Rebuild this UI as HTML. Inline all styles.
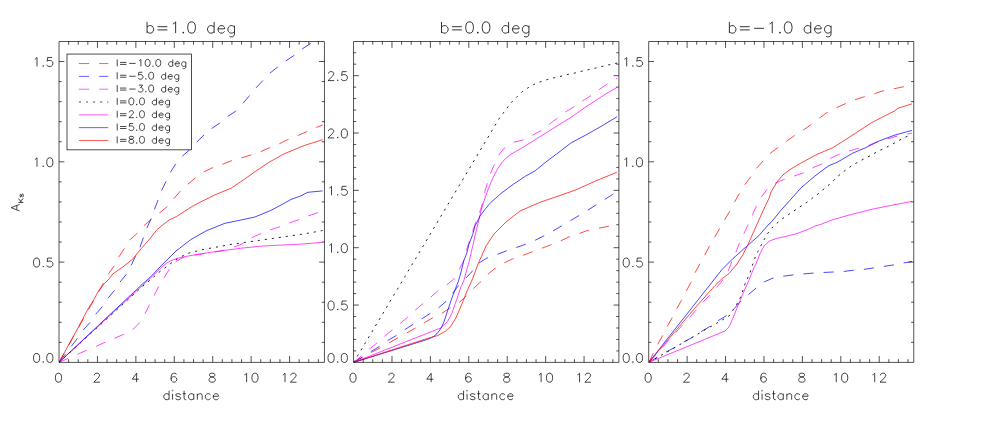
<!DOCTYPE html>
<html><head><meta charset="utf-8"><title>A_Ks vs distance</title>
<style>html,body{margin:0;padding:0;background:#fff;font-family:"Liberation Sans",sans-serif}svg{display:block}</style></head>
<body>
<svg width="981" height="427" viewBox="0 0 981 427">
<rect width="981" height="427" fill="#fff"/>
<clipPath id="c1"><rect x="59.03" y="41.50" width="265.42" height="320.90"/></clipPath>
<clipPath id="c2"><rect x="353.55" y="41.50" width="265.35" height="320.90"/></clipPath>
<clipPath id="c3"><rect x="648.70" y="41.50" width="265.05" height="320.90"/></clipPath>
<g clip-path="url(#c1)"><g transform="scale(1,1.000)" fill="none" stroke-width="0.72" stroke-linejoin="round">
<path d="M59.0 362.40L108.5 273.90L113.9 266.30L118.9 256.90L123.9 249.00L129.3 240.40L136.9 233.60L143.9 225.60L150.5 220.00L159.3 213.00L166.9 207.00L173.6 199.00L180.0 191.50L186.9 184.90L195.9 177.50L202.9 172.30L211.9 168.00L221.9 164.40L230.9 161.00L240.9 158.00L250.9 155.00L260.9 151.60L268.9 148.00L278.9 144.00L287.8 139.60L296.8 136.00L306.8 131.60L314.8 128.00L322.6 125.10" stroke="#ff0000" stroke-dasharray="10.2 10.0"/>
<path d="M59.0 362.40L71.0 346.90L77.0 338.90L83.0 330.30L90.0 322.40L95.0 315.00L102.0 307.00L107.3 299.00L114.5 290.40L119.6 282.50L125.9 274.90L130.9 265.90L134.9 257.50L139.9 247.60L142.9 239.00L146.9 228.00L150.9 219.00L154.3 210.00L157.9 200.40L161.4 190.90L166.0 181.50L170.0 172.90L175.4 164.40L182.0 156.40L189.9 149.60L195.9 143.00L202.9 136.00L210.9 129.00L219.9 123.00L227.9 116.30L235.3 111.50L242.5 103.90L248.9 96.30L255.9 88.00L262.5 81.00L269.3 73.60L276.9 67.60L284.8 61.60L293.2 56.00L301.2 49.60L309.8 44.00L318.0 38.50" stroke="#0000ff" stroke-dasharray="10.2 10.0"/>
<path d="M59.0 362.40L77.4 354.30L86.6 350.30L96.0 346.30L105.0 342.30L114.5 338.30L123.9 334.30L132.9 329.50L139.9 322.40L144.9 314.00L149.3 305.00L153.9 296.00L158.9 286.00L163.9 278.00L168.9 269.90L175.5 261.70L183.0 257.50L194.0 255.20L204.0 253.60L213.5 252.20L223.5 250.50L233.9 247.00L242.9 243.60L250.9 238.00L259.9 234.00L268.9 230.40L278.9 227.00L287.8 223.60L296.8 220.40L306.8 216.40L316.8 213.00L322.6 211.04" stroke="#ff00ff" stroke-dasharray="10.2 10.0"/>
<path d="M59.0 362.40L133.0 295.00L138.0 290.40L143.0 286.00L149.0 281.00L159.0 272.30L164.9 268.00L174.9 260.30L182.0 256.30L189.0 253.00L203.0 249.50L217.0 247.00L231.0 244.40L244.9 242.40L258.9 240.40L272.9 238.40L286.8 236.40L300.8 234.40L314.8 232.00L321.8 230.60L322.6 230.40" stroke="#000000" stroke-dasharray="2.1 4.97" stroke-width="0.88"/>
<path d="M59.0 362.40L144.0 284.00L150.0 278.50L161.0 267.70L167.0 262.80L172.0 260.20L177.0 258.50L183.0 257.10L190.9 255.50L210.9 252.30L224.9 250.30L242.9 248.00L262.9 246.00L282.9 245.00L302.8 244.00L321.8 242.40L322.6 242.33" stroke="#ff00ff"/>
<path d="M59.0 362.40L144.0 282.60L150.0 277.50L160.0 266.90L176.0 251.00L190.9 239.50L206.9 230.50L224.9 223.30L242.9 219.60L254.9 217.00L270.9 210.40L282.9 204.00L290.8 199.50L300.8 195.90L307.8 192.30L322.6 190.92" stroke="#0000ff"/>
<path d="M59.0 362.40L79.0 326.00L88.0 309.00L93.0 301.00L98.0 292.00L104.0 284.00L109.0 279.00L112.9 273.90L122.9 266.90L132.9 258.90L140.9 248.90L148.9 240.00L157.0 229.50L169.0 220.00L176.5 216.50L192.9 206.00L199.9 202.30L214.9 194.90L230.9 188.30L244.9 178.90L256.9 170.30L268.9 162.40L282.9 154.40L302.8 146.00L322.6 139.66" stroke="#ff0000"/>
</g></g>
<g clip-path="url(#c2)"><g transform="scale(1,1.000)" fill="none" stroke-width="0.72" stroke-linejoin="round">
<path d="M353.7 362.40L371.6 352.30L380.0 347.90L389.0 342.90L397.0 338.30L406.9 332.90L414.9 328.30L423.9 323.00L432.3 318.00L441.5 313.60L449.3 308.40L457.9 303.60L465.9 296.40L472.9 289.00L480.9 281.60L487.0 275.00L495.0 268.30L504.0 263.00L512.3 259.00L522.3 255.50L530.9 252.40L541.5 248.40L550.3 245.00L560.3 241.00L568.9 237.00L578.9 233.60L587.8 230.40L598.2 228.40L608.2 226.40L617.1 225.05" stroke="#ff0000" stroke-dasharray="10.2 10.0"/>
<path d="M353.7 362.40L371.0 351.50L379.6 346.30L388.0 340.30L396.4 335.50L404.3 330.00L412.9 324.40L421.5 319.00L429.9 313.60L438.3 308.00L445.9 301.60L452.9 293.00L457.9 286.40L465.0 279.00L471.6 272.00L479.0 263.00L487.0 258.00L497.0 254.40L506.0 251.00L516.0 247.60L525.3 244.40L534.9 240.40L543.5 236.00L552.9 231.00L561.5 226.00L569.9 221.00L578.9 215.60L587.5 210.40L595.9 205.00L604.5 199.60L612.8 194.30L617.1 191.54" stroke="#0000ff" stroke-dasharray="10.2 10.0"/>
<path d="M353.7 362.40L369.0 349.50L377.0 342.90L384.4 336.30L392.4 329.90L399.6 324.00L407.9 317.00L414.9 310.40L422.9 303.60L430.3 297.60L438.3 290.40L445.9 285.60L453.9 279.00L459.6 268.90L463.5 261.00L466.5 250.00L469.5 241.00L472.7 231.00L475.8 222.00L479.6 212.50L482.5 203.50L484.3 193.50L486.9 184.90L490.3 173.90L493.9 165.60L498.3 155.60L504.3 148.00L512.9 142.40L522.9 140.00L531.9 135.60L540.3 131.00L548.3 125.00L556.9 118.50L564.9 112.30L573.9 106.90L581.8 101.50L589.8 96.30L598.2 90.30L606.8 84.30L613.8 80.00L617.1 78.26" stroke="#ff00ff" stroke-dasharray="10.2 10.0"/>
<path d="M353.7 362.40L492.0 130.60L498.3 119.80L502.9 113.50L507.9 106.90L511.9 101.90L516.9 96.90L521.9 91.90L527.9 87.90L533.9 84.40L540.9 81.60L547.9 79.40L554.9 77.60L561.9 76.00L567.9 74.40L574.9 73.00L581.8 71.20L588.8 69.60L595.8 68.00L602.8 66.20L609.8 64.60L615.8 63.40L617.1 63.13" stroke="#000000" stroke-dasharray="2.1 4.97" stroke-width="0.88"/>
<path d="M353.7 362.40L440.9 327.90L447.5 321.50L451.5 314.00L455.5 303.00L460.5 288.00L464.0 280.00L466.8 269.60L469.0 262.00L472.7 246.20L474.5 238.00L477.6 225.00L481.5 209.00L485.0 198.00L487.9 189.90L490.8 182.50L493.9 175.90L497.5 169.00L501.9 162.70L505.5 158.50L509.9 155.00L515.5 151.50L521.9 148.00L537.9 138.00L553.9 128.00L562.9 122.30L569.9 118.00L585.8 106.90L605.8 93.90L617.1 87.28" stroke="#ff00ff"/>
<path d="M353.7 362.40L425.9 339.90L430.0 338.40L433.9 336.30L437.0 333.60L439.9 329.90L442.0 326.20L443.9 322.00L447.9 310.00L451.9 298.00L455.5 288.50L458.5 281.00L461.0 272.00L464.0 260.00L466.8 253.20L469.0 244.00L472.7 234.50L475.0 226.00L478.5 219.30L480.0 216.00L485.8 208.40L490.9 202.30L495.9 198.00L500.9 193.50L513.9 183.90L525.9 175.90L534.9 171.00L545.9 162.00L557.9 153.00L570.9 143.00L585.8 135.00L601.8 126.00L610.0 121.00L617.1 116.69" stroke="#0000ff"/>
<path d="M353.7 362.40L425.9 338.90L437.9 335.50L445.9 330.90L450.9 326.00L455.9 318.00L461.9 304.00L467.9 289.00L471.0 282.30L472.9 278.00L478.0 264.00L486.0 246.00L494.0 234.00L506.0 222.00L520.0 211.00L536.0 204.00L539.9 202.30L555.9 196.90L575.9 189.90L595.8 180.90L616.8 172.30L617.1 172.16" stroke="#ff0000"/>
</g></g>
<g clip-path="url(#c3)"><g transform="scale(1,1.000)" fill="none" stroke-width="0.72" stroke-linejoin="round">
<path d="M648.8 362.40L657.4 344.90L662.6 335.50L667.0 327.00L672.0 318.00L676.6 309.00L681.4 300.40L686.0 291.60L691.0 282.40L695.0 272.90L699.3 264.90L704.5 255.50L709.3 246.40L714.5 237.60L719.3 229.00L724.5 220.00L729.9 211.00L734.3 202.40L739.4 193.50L744.6 184.90L750.6 176.90L756.6 168.30L763.0 161.00L769.4 154.00L777.3 148.00L785.3 142.00L793.3 136.40L801.9 131.00L810.5 125.00L818.7 118.60L826.5 112.90L835.9 107.90L844.9 103.90L854.5 99.90L863.9 96.90L873.8 93.90L882.8 90.90L893.2 88.90L902.8 86.90L912.0 85.30" stroke="#ff0000" stroke-dasharray="10.2 10.0"/>
<path d="M648.8 362.40L666.0 352.00L674.6 347.60L683.0 342.40L692.0 337.60L701.0 331.60L709.0 327.00L717.4 321.00L726.0 316.00L733.0 310.00L740.0 302.00L748.0 295.00L755.0 289.00L764.0 282.00L773.0 278.00L782.8 276.30L792.0 275.00L803.0 274.00L813.0 273.10L823.0 272.50L833.0 272.00L843.3 271.50L853.0 270.30L863.3 269.50L873.0 268.00L883.3 266.50L893.0 265.00L903.3 263.00L912.0 261.50" stroke="#0000ff" stroke-dasharray="10.2 10.0"/>
<path d="M648.8 362.40L662.4 347.40L669.2 339.90L675.9 332.40L682.7 324.90L689.5 317.40L696.3 309.90L702.5 302.70L710.0 295.00L716.0 288.00L722.0 281.00L727.9 271.50L731.3 263.00L735.9 252.30L739.3 243.60L743.3 235.00L747.9 225.00L751.9 216.40L755.9 207.00L760.3 198.60L766.6 190.00L775.3 183.00L784.0 179.50L793.3 176.30L803.0 173.00L812.0 168.00L821.0 164.40L830.0 158.40L839.0 154.40L849.0 151.00L858.0 148.40L868.0 145.60L877.0 142.00L887.0 139.00L896.0 136.40L906.0 134.40L912.0 133.09" stroke="#ff00ff" stroke-dasharray="10.2 10.0"/>
<path d="M648.8 362.40L667.0 352.00L685.0 341.60L703.0 331.00L717.0 323.00L729.0 316.00L733.0 310.00L737.0 304.00L740.6 297.00L743.0 290.00L745.0 284.00L747.3 278.90L749.9 272.90L751.9 266.90L754.9 257.90L757.9 251.50L760.9 245.60L763.9 240.00L767.3 234.00L770.9 229.00L775.9 224.00L781.9 219.00L787.9 215.00L793.9 211.00L799.8 207.00L805.8 203.00L811.8 198.60L818.0 193.90L824.0 188.90L830.0 184.00L837.0 177.00L843.0 172.00L849.0 167.60L855.3 163.60L861.9 160.00L867.9 157.00L873.8 153.60L879.8 150.40L885.8 147.60L892.8 144.00L899.8 140.00L905.8 137.00L911.8 134.40L912.0 134.32" stroke="#000000" stroke-dasharray="2.1 4.97" stroke-width="0.88"/>
<path d="M648.8 362.40L725.0 331.00L729.0 327.00L733.0 318.00L739.0 303.00L745.0 289.00L748.0 282.30L753.9 267.90L756.0 263.90L759.9 253.90L764.0 246.00L768.9 241.60L771.0 240.40L776.9 238.40L783.0 237.00L788.9 235.60L797.0 233.60L808.8 229.00L815.0 226.00L820.8 224.40L833.0 219.60L853.0 214.00L873.0 209.00L893.0 205.00L912.0 201.40" stroke="#ff00ff"/>
<path d="M648.8 362.40L722.0 269.50L733.0 258.50L747.0 246.00L759.0 235.50L769.0 224.00L771.0 222.50L781.0 210.20L792.0 198.00L801.0 187.90L815.0 175.90L829.0 165.60L837.0 162.40L853.0 153.00L865.0 148.00L879.0 141.00L895.0 135.00L912.0 130.40" stroke="#0000ff"/>
<path d="M648.8 362.40L675.0 331.50L695.0 308.00L715.0 285.50L722.0 278.70L729.0 273.50L737.0 264.00L743.0 254.50L748.0 244.50L754.0 231.00L760.0 217.50L765.0 206.50L769.2 198.00L771.0 192.00L777.0 181.90L783.0 174.90L790.0 169.50L801.0 163.00L817.0 154.40L833.0 147.60L845.0 140.00L861.0 129.60L871.8 122.50L880.8 117.90L894.8 110.90L897.8 108.30L911.8 103.90L912.0 103.84" stroke="#ff0000"/>
</g></g>
<rect x="67.00" y="54.05" width="124.45" height="95.80" fill="#fff" stroke="#000" stroke-width="0.70"/>
<g fill="none" stroke-width="0.63"><path d="M78.9 63.55H108.3" stroke="#ff0000" stroke-dasharray="10.2 10.0"/><path d="M78.9 76.37H108.3" stroke="#0000ff" stroke-dasharray="10.2 10.0"/><path d="M78.9 89.19H108.3" stroke="#ff00ff" stroke-dasharray="10.2 10.0"/><path d="M78.9 102.01H108.3" stroke="#000" stroke-dasharray="2.1 4.97" stroke-width="0.7"/><path d="M78.9 114.83H108.3" stroke="#ff00ff"/><path d="M78.9 127.65H108.3" stroke="#0000ff"/><path d="M78.9 140.47H108.3" stroke="#ff0000"/></g>
<path d="M59.03 41.50H324.45V362.40H59.03ZM68.64 362.40L68.64 359.20M68.64 41.50L68.64 44.70M78.24 362.40L78.24 359.20M78.24 41.50L78.24 44.70M87.84 362.40L87.84 359.20M87.84 41.50L87.84 44.70M97.45 362.40L97.45 356.00M97.45 41.50L97.45 47.90M107.06 362.40L107.06 359.20M107.06 41.50L107.06 44.70M116.66 362.40L116.66 359.20M116.66 41.50L116.66 44.70M126.27 362.40L126.27 359.20M126.27 41.50L126.27 44.70M135.87 362.40L135.87 356.00M135.87 41.50L135.87 47.90M145.48 362.40L145.48 359.20M145.48 41.50L145.48 44.70M155.08 362.40L155.08 359.20M155.08 41.50L155.08 44.70M164.69 362.40L164.69 359.20M164.69 41.50L164.69 44.70M174.29 362.40L174.29 356.00M174.29 41.50L174.29 47.90M183.90 362.40L183.90 359.20M183.90 41.50L183.90 44.70M193.50 362.40L193.50 359.20M193.50 41.50L193.50 44.70M203.11 362.40L203.11 359.20M203.11 41.50L203.11 44.70M212.71 362.40L212.71 356.00M212.71 41.50L212.71 47.90M222.31 362.40L222.31 359.20M222.31 41.50L222.31 44.70M231.92 362.40L231.92 359.20M231.92 41.50L231.92 44.70M241.53 362.40L241.53 359.20M241.53 41.50L241.53 44.70M251.13 362.40L251.13 356.00M251.13 41.50L251.13 47.90M260.74 362.40L260.74 359.20M260.74 41.50L260.74 44.70M270.34 362.40L270.34 359.20M270.34 41.50L270.34 44.70M279.95 362.40L279.95 359.20M279.95 41.50L279.95 44.70M289.55 362.40L289.55 356.00M289.55 41.50L289.55 47.90M299.15 362.40L299.15 359.20M299.15 41.50L299.15 44.70M308.76 362.40L308.76 359.20M308.76 41.50L308.76 44.70M318.37 362.40L318.37 359.20M318.37 41.50L318.37 44.70M59.03 342.34L61.68 342.34M324.45 342.34L321.80 342.34M59.03 322.28L61.68 322.28M324.45 322.28L321.80 322.28M59.03 302.22L61.68 302.22M324.45 302.22L321.80 302.22M59.03 282.16L61.68 282.16M324.45 282.16L321.80 282.16M59.03 262.10L64.33 262.10M324.45 262.10L319.15 262.10M59.03 242.04L61.68 242.04M324.45 242.04L321.80 242.04M59.03 221.98L61.68 221.98M324.45 221.98L321.80 221.98M59.03 201.92L61.68 201.92M324.45 201.92L321.80 201.92M59.03 181.86L61.68 181.86M324.45 181.86L321.80 181.86M59.03 161.80L64.33 161.80M324.45 161.80L319.15 161.80M59.03 141.74L61.68 141.74M324.45 141.74L321.80 141.74M59.03 121.68L61.68 121.68M324.45 121.68L321.80 121.68M59.03 101.62L61.68 101.62M324.45 101.62L321.80 101.62M59.03 81.56L61.68 81.56M324.45 81.56L321.80 81.56M59.03 61.50L64.33 61.50M324.45 61.50L319.15 61.50M353.55 41.50H618.90V362.40H353.55ZM363.16 362.40L363.16 359.20M363.16 41.50L363.16 44.70M372.76 362.40L372.76 359.20M372.76 41.50L372.76 44.70M382.37 362.40L382.37 359.20M382.37 41.50L382.37 44.70M391.97 362.40L391.97 356.00M391.97 41.50L391.97 47.90M401.58 362.40L401.58 359.20M401.58 41.50L401.58 44.70M411.18 362.40L411.18 359.20M411.18 41.50L411.18 44.70M420.79 362.40L420.79 359.20M420.79 41.50L420.79 44.70M430.39 362.40L430.39 356.00M430.39 41.50L430.39 47.90M440.00 362.40L440.00 359.20M440.00 41.50L440.00 44.70M449.60 362.40L449.60 359.20M449.60 41.50L449.60 44.70M459.21 362.40L459.21 359.20M459.21 41.50L459.21 44.70M468.81 362.40L468.81 356.00M468.81 41.50L468.81 47.90M478.42 362.40L478.42 359.20M478.42 41.50L478.42 44.70M488.02 362.40L488.02 359.20M488.02 41.50L488.02 44.70M497.62 362.40L497.62 359.20M497.62 41.50L497.62 44.70M507.23 362.40L507.23 356.00M507.23 41.50L507.23 47.90M516.84 362.40L516.84 359.20M516.84 41.50L516.84 44.70M526.44 362.40L526.44 359.20M526.44 41.50L526.44 44.70M536.05 362.40L536.05 359.20M536.05 41.50L536.05 44.70M545.65 362.40L545.65 356.00M545.65 41.50L545.65 47.90M555.25 362.40L555.25 359.20M555.25 41.50L555.25 44.70M564.86 362.40L564.86 359.20M564.86 41.50L564.86 44.70M574.47 362.40L574.47 359.20M574.47 41.50L574.47 44.70M584.07 362.40L584.07 356.00M584.07 41.50L584.07 47.90M593.67 362.40L593.67 359.20M593.67 41.50L593.67 44.70M603.28 362.40L603.28 359.20M603.28 41.50L603.28 44.70M612.88 362.40L612.88 359.20M612.88 41.50L612.88 44.70M353.55 350.93L356.20 350.93M618.90 350.93L616.25 350.93M353.55 339.46L356.20 339.46M618.90 339.46L616.25 339.46M353.55 327.99L356.20 327.99M618.90 327.99L616.25 327.99M353.55 316.52L356.20 316.52M618.90 316.52L616.25 316.52M353.55 305.05L358.85 305.05M618.90 305.05L613.60 305.05M353.55 293.58L356.20 293.58M618.90 293.58L616.25 293.58M353.55 282.11L356.20 282.11M618.90 282.11L616.25 282.11M353.55 270.64L356.20 270.64M618.90 270.64L616.25 270.64M353.55 259.17L356.20 259.17M618.90 259.17L616.25 259.17M353.55 247.70L358.85 247.70M618.90 247.70L613.60 247.70M353.55 236.23L356.20 236.23M618.90 236.23L616.25 236.23M353.55 224.76L356.20 224.76M618.90 224.76L616.25 224.76M353.55 213.29L356.20 213.29M618.90 213.29L616.25 213.29M353.55 201.82L356.20 201.82M618.90 201.82L616.25 201.82M353.55 190.35L358.85 190.35M618.90 190.35L613.60 190.35M353.55 178.88L356.20 178.88M618.90 178.88L616.25 178.88M353.55 167.41L356.20 167.41M618.90 167.41L616.25 167.41M353.55 155.94L356.20 155.94M618.90 155.94L616.25 155.94M353.55 144.47L356.20 144.47M618.90 144.47L616.25 144.47M353.55 133.00L358.85 133.00M618.90 133.00L613.60 133.00M353.55 121.53L356.20 121.53M618.90 121.53L616.25 121.53M353.55 110.06L356.20 110.06M618.90 110.06L616.25 110.06M353.55 98.59L356.20 98.59M618.90 98.59L616.25 98.59M353.55 87.12L356.20 87.12M618.90 87.12L616.25 87.12M353.55 75.65L358.85 75.65M618.90 75.65L613.60 75.65M353.55 64.18L356.20 64.18M618.90 64.18L616.25 64.18M353.55 52.71L356.20 52.71M618.90 52.71L616.25 52.71M648.70 41.50H913.75V362.40H648.70ZM658.31 362.40L658.31 359.20M658.31 41.50L658.31 44.70M667.91 362.40L667.91 359.20M667.91 41.50L667.91 44.70M677.52 362.40L677.52 359.20M677.52 41.50L677.52 44.70M687.12 362.40L687.12 356.00M687.12 41.50L687.12 47.90M696.73 362.40L696.73 359.20M696.73 41.50L696.73 44.70M706.33 362.40L706.33 359.20M706.33 41.50L706.33 44.70M715.94 362.40L715.94 359.20M715.94 41.50L715.94 44.70M725.54 362.40L725.54 356.00M725.54 41.50L725.54 47.90M735.15 362.40L735.15 359.20M735.15 41.50L735.15 44.70M744.75 362.40L744.75 359.20M744.75 41.50L744.75 44.70M754.36 362.40L754.36 359.20M754.36 41.50L754.36 44.70M763.96 362.40L763.96 356.00M763.96 41.50L763.96 47.90M773.57 362.40L773.57 359.20M773.57 41.50L773.57 44.70M783.17 362.40L783.17 359.20M783.17 41.50L783.17 44.70M792.78 362.40L792.78 359.20M792.78 41.50L792.78 44.70M802.38 362.40L802.38 356.00M802.38 41.50L802.38 47.90M811.99 362.40L811.99 359.20M811.99 41.50L811.99 44.70M821.59 362.40L821.59 359.20M821.59 41.50L821.59 44.70M831.20 362.40L831.20 359.20M831.20 41.50L831.20 44.70M840.80 362.40L840.80 356.00M840.80 41.50L840.80 47.90M850.41 362.40L850.41 359.20M850.41 41.50L850.41 44.70M860.01 362.40L860.01 359.20M860.01 41.50L860.01 44.70M869.62 362.40L869.62 359.20M869.62 41.50L869.62 44.70M879.22 362.40L879.22 356.00M879.22 41.50L879.22 47.90M888.83 362.40L888.83 359.20M888.83 41.50L888.83 44.70M898.43 362.40L898.43 359.20M898.43 41.50L898.43 44.70M908.04 362.40L908.04 359.20M908.04 41.50L908.04 44.70M648.70 342.34L651.35 342.34M913.75 342.34L911.10 342.34M648.70 322.28L651.35 322.28M913.75 322.28L911.10 322.28M648.70 302.22L651.35 302.22M913.75 302.22L911.10 302.22M648.70 282.16L651.35 282.16M913.75 282.16L911.10 282.16M648.70 262.10L654.00 262.10M913.75 262.10L908.45 262.10M648.70 242.04L651.35 242.04M913.75 242.04L911.10 242.04M648.70 221.98L651.35 221.98M913.75 221.98L911.10 221.98M648.70 201.92L651.35 201.92M913.75 201.92L911.10 201.92M648.70 181.86L651.35 181.86M913.75 181.86L911.10 181.86M648.70 161.80L654.00 161.80M913.75 161.80L908.45 161.80M648.70 141.74L651.35 141.74M913.75 141.74L911.10 141.74M648.70 121.68L651.35 121.68M913.75 121.68L911.10 121.68M648.70 101.62L651.35 101.62M913.75 101.62L911.10 101.62M648.70 81.56L651.35 81.56M913.75 81.56L911.10 81.56M648.70 61.50L654.00 61.50M913.75 61.50L908.45 61.50" fill="none" stroke="#000" stroke-width="0.68"/>
<g fill="none" stroke="#000" stroke-linecap="butt" stroke-linejoin="round">
<path d="M58.04 373.23L56.71 373.66L55.83 374.94L55.39 377.08L55.39 378.36L55.83 380.49L56.71 381.77L58.04 382.20L58.92 382.20L60.25 381.77L61.13 380.49L61.57 378.36L61.57 377.08L61.13 374.94L60.25 373.66L58.92 373.23L58.04 373.23M94.25 375.37L94.25 374.94L94.69 374.09L95.13 373.66L96.02 373.23L97.78 373.23L98.67 373.66L99.11 374.09L99.55 374.94L99.55 375.80L99.11 376.65L98.22 377.93L93.81 382.20L99.99 382.20M136.64 373.23L132.23 379.21L138.85 379.21M136.64 373.23L136.64 382.20M176.39 374.51L175.95 373.66L174.62 373.23L173.74 373.23L172.42 373.66L171.53 374.94L171.09 377.08L171.09 379.21L171.53 380.92L172.42 381.77L173.74 382.20L174.18 382.20L175.51 381.77L176.39 380.92L176.83 379.64L176.83 379.21L176.39 377.93L175.51 377.08L174.18 376.65L173.74 376.65L172.42 377.08L171.53 377.93L171.09 379.21M211.28 373.23L209.95 373.66L209.51 374.51L209.51 375.37L209.95 376.22L210.84 376.65L212.60 377.08L213.93 377.50L214.81 378.36L215.25 379.21L215.25 380.49L214.81 381.35L214.37 381.77L213.04 382.20L211.28 382.20L209.95 381.77L209.51 381.35L209.07 380.49L209.07 379.21L209.51 378.36L210.39 377.50L211.72 377.08L213.48 376.65L214.37 376.22L214.81 375.37L214.81 374.51L214.37 373.66L213.04 373.23L211.28 373.23M244.40 374.94L245.28 374.51L246.61 373.23L246.61 382.20M254.55 373.23L253.23 373.66L252.35 374.94L251.90 377.08L251.90 378.36L252.35 380.49L253.23 381.77L254.55 382.20L255.44 382.20L256.76 381.77L257.65 380.49L258.09 378.36L258.09 377.08L257.65 374.94L256.76 373.66L255.44 373.23L254.55 373.23M282.82 374.94L283.70 374.51L285.03 373.23L285.03 382.20M290.77 375.37L290.77 374.94L291.21 374.09L291.65 373.66L292.53 373.23L294.30 373.23L295.18 373.66L295.62 374.09L296.07 374.94L296.07 375.80L295.62 376.65L294.74 377.93L290.32 382.20L296.51 382.20M36.12 353.48L34.80 353.91L33.92 355.19L33.47 357.33L33.47 358.61L33.92 360.74L34.80 362.02L36.12 362.45L37.01 362.45L38.33 362.02L39.22 360.74L39.66 358.61L39.66 357.33L39.22 355.19L38.33 353.91L37.01 353.48L36.12 353.48M49.37 353.48L48.05 353.91L47.16 355.19L46.72 357.33L46.72 358.61L47.16 360.74L48.05 362.02L49.37 362.45L50.26 362.45L51.58 362.02L52.46 360.74L52.91 358.61L52.91 357.33L52.46 355.19L51.58 353.91L50.26 353.48L49.37 353.48M36.12 258.08L34.80 258.51L33.92 259.79L33.47 261.93L33.47 263.21L33.92 265.34L34.80 266.62L36.12 267.05L37.01 267.05L38.33 266.62L39.22 265.34L39.66 263.21L39.66 261.93L39.22 259.79L38.33 258.51L37.01 258.08L36.12 258.08M52.02 258.08L47.61 258.08L47.16 261.93L47.61 261.50L48.93 261.07L50.26 261.07L51.58 261.50L52.46 262.35L52.91 263.63L52.91 264.49L52.46 265.77L51.58 266.62L50.26 267.05L48.93 267.05L47.61 266.62L47.16 266.20L46.72 265.34M34.80 159.49L35.68 159.06L37.01 157.78L37.01 166.75M49.37 157.78L48.05 158.21L47.16 159.49L46.72 161.63L46.72 162.91L47.16 165.04L48.05 166.32L49.37 166.75L50.26 166.75L51.58 166.32L52.46 165.04L52.91 162.91L52.91 161.63L52.46 159.49L51.58 158.21L50.26 157.78L49.37 157.78M34.80 59.19L35.68 58.76L37.01 57.48L37.01 66.45M52.02 57.48L47.61 57.48L47.16 61.33L47.61 60.90L48.93 60.47L50.26 60.47L51.58 60.90L52.46 61.75L52.91 63.03L52.91 63.89L52.46 65.17L51.58 66.02L50.26 66.45L48.93 66.45L47.61 66.02L47.16 65.60L46.72 64.74M169.06 390.73L169.06 399.70M169.06 395.00L168.18 394.15L167.29 393.72L165.97 393.72L165.09 394.15L164.20 395.00L163.76 396.28L163.76 397.14L164.20 398.42L165.09 399.27L165.97 399.70L167.29 399.70L168.18 399.27L169.06 398.42M172.15 390.73L172.59 391.16L173.03 390.73L172.59 390.31L172.15 390.73M172.59 393.72L172.59 399.70M180.54 395.00L180.10 394.15L178.78 393.72L177.45 393.72L176.13 394.15L175.68 395.00L176.13 395.86L177.01 396.28L179.22 396.71L180.10 397.14L180.54 397.99L180.54 398.42L180.10 399.27L178.78 399.70L177.45 399.70L176.13 399.27L175.68 398.42M184.07 390.73L184.07 397.99L184.52 399.27L185.40 399.70L186.28 399.70M182.75 393.72L185.84 393.72M193.79 393.72L193.79 399.70M193.79 395.00L192.91 394.15L192.02 393.72L190.70 393.72L189.82 394.15L188.93 395.00L188.49 396.28L188.49 397.14L188.93 398.42L189.82 399.27L190.70 399.70L192.02 399.70L192.91 399.27L193.79 398.42M197.32 393.72L197.32 399.70M197.32 395.43L198.65 394.15L199.53 393.72L200.86 393.72L201.74 394.15L202.18 395.43L202.18 399.70M210.57 395.00L209.69 394.15L208.80 393.72L207.48 393.72L206.60 394.15L205.71 395.00L205.27 396.28L205.27 397.14L205.71 398.42L206.60 399.27L207.48 399.70L208.80 399.70L209.69 399.27L210.57 398.42M213.22 396.28L218.52 396.28L218.52 395.43L218.08 394.58L217.64 394.15L216.75 393.72L215.43 393.72L214.54 394.15L213.66 395.00L213.22 396.28L213.22 397.14L213.66 398.42L214.54 399.27L215.43 399.70L216.75 399.70L217.64 399.27L218.52 398.42M352.56 373.23L351.23 373.66L350.35 374.94L349.91 377.08L349.91 378.36L350.35 380.49L351.23 381.77L352.56 382.20L353.44 382.20L354.77 381.77L355.65 380.49L356.09 378.36L356.09 377.08L355.65 374.94L354.77 373.66L353.44 373.23L352.56 373.23M388.77 375.37L388.77 374.94L389.21 374.09L389.65 373.66L390.54 373.23L392.30 373.23L393.19 373.66L393.63 374.09L394.07 374.94L394.07 375.80L393.63 376.65L392.74 377.93L388.33 382.20L394.51 382.20M431.16 373.23L426.75 379.21L433.37 379.21M431.16 373.23L431.16 382.20M470.91 374.51L470.47 373.66L469.14 373.23L468.26 373.23L466.94 373.66L466.05 374.94L465.61 377.08L465.61 379.21L466.05 380.92L466.94 381.77L468.26 382.20L468.70 382.20L470.03 381.77L470.91 380.92L471.35 379.64L471.35 379.21L470.91 377.93L470.03 377.08L468.70 376.65L468.26 376.65L466.94 377.08L466.05 377.93L465.61 379.21M505.80 373.23L504.47 373.66L504.03 374.51L504.03 375.37L504.47 376.22L505.36 376.65L507.12 377.08L508.45 377.50L509.33 378.36L509.77 379.21L509.77 380.49L509.33 381.35L508.89 381.77L507.56 382.20L505.80 382.20L504.47 381.77L504.03 381.35L503.59 380.49L503.59 379.21L504.03 378.36L504.91 377.50L506.24 377.08L508.00 376.65L508.89 376.22L509.33 375.37L509.33 374.51L508.89 373.66L507.56 373.23L505.80 373.23M538.92 374.94L539.80 374.51L541.13 373.23L541.13 382.20M549.07 373.23L547.75 373.66L546.87 374.94L546.42 377.08L546.42 378.36L546.87 380.49L547.75 381.77L549.07 382.20L549.96 382.20L551.28 381.77L552.17 380.49L552.61 378.36L552.61 377.08L552.17 374.94L551.28 373.66L549.96 373.23L549.07 373.23M577.34 374.94L578.22 374.51L579.55 373.23L579.55 382.20M585.29 375.37L585.29 374.94L585.73 374.09L586.17 373.66L587.05 373.23L588.82 373.23L589.70 373.66L590.14 374.09L590.59 374.94L590.59 375.80L590.14 376.65L589.26 377.93L584.84 382.20L591.03 382.20M330.64 353.48L329.32 353.91L328.44 355.19L327.99 357.33L327.99 358.61L328.44 360.74L329.32 362.02L330.64 362.45L331.53 362.45L332.85 362.02L333.74 360.74L334.18 358.61L334.18 357.33L333.74 355.19L332.85 353.91L331.53 353.48L330.64 353.48M343.89 353.48L342.57 353.91L341.68 355.19L341.24 357.33L341.24 358.61L341.68 360.74L342.57 362.02L343.89 362.45L344.78 362.45L346.10 362.02L346.98 360.74L347.43 358.61L347.43 357.33L346.98 355.19L346.10 353.91L344.78 353.48L343.89 353.48M330.64 301.03L329.32 301.46L328.44 302.74L327.99 304.88L327.99 306.16L328.44 308.29L329.32 309.57L330.64 310.00L331.53 310.00L332.85 309.57L333.74 308.29L334.18 306.16L334.18 304.88L333.74 302.74L332.85 301.46L331.53 301.03L330.64 301.03M346.54 301.03L342.13 301.03L341.68 304.88L342.13 304.45L343.45 304.02L344.78 304.02L346.10 304.45L346.98 305.30L347.43 306.58L347.43 307.44L346.98 308.72L346.10 309.57L344.78 310.00L343.45 310.00L342.13 309.57L341.68 309.15L341.24 308.29M329.32 245.39L330.20 244.96L331.53 243.68L331.53 252.65M343.89 243.68L342.57 244.11L341.68 245.39L341.24 247.53L341.24 248.81L341.68 250.94L342.57 252.22L343.89 252.65L344.78 252.65L346.10 252.22L346.98 250.94L347.43 248.81L347.43 247.53L346.98 245.39L346.10 244.11L344.78 243.68L343.89 243.68M329.32 188.04L330.20 187.61L331.53 186.33L331.53 195.30M346.54 186.33L342.13 186.33L341.68 190.18L342.13 189.75L343.45 189.32L344.78 189.32L346.10 189.75L346.98 190.60L347.43 191.88L347.43 192.74L346.98 194.02L346.10 194.87L344.78 195.30L343.45 195.30L342.13 194.87L341.68 194.45L341.24 193.59M328.44 131.12L328.44 130.69L328.88 129.84L329.32 129.41L330.20 128.98L331.97 128.98L332.85 129.41L333.29 129.84L333.74 130.69L333.74 131.54L333.29 132.40L332.41 133.68L327.99 137.95L334.18 137.95M343.89 128.98L342.57 129.41L341.68 130.69L341.24 132.83L341.24 134.11L341.68 136.24L342.57 137.52L343.89 137.95L344.78 137.95L346.10 137.52L346.98 136.24L347.43 134.11L347.43 132.83L346.98 130.69L346.10 129.41L344.78 128.98L343.89 128.98M328.44 73.77L328.44 73.34L328.88 72.49L329.32 72.06L330.20 71.63L331.97 71.63L332.85 72.06L333.29 72.49L333.74 73.34L333.74 74.19L333.29 75.05L332.41 76.33L327.99 80.60L334.18 80.60M346.54 71.63L342.13 71.63L341.68 75.48L342.13 75.05L343.45 74.62L344.78 74.62L346.10 75.05L346.98 75.90L347.43 77.18L347.43 78.04L346.98 79.32L346.10 80.17L344.78 80.60L343.45 80.60L342.13 80.17L341.68 79.75L341.24 78.89M463.55 390.73L463.55 399.70M463.55 395.00L462.66 394.15L461.78 393.72L460.45 393.72L459.57 394.15L458.69 395.00L458.25 396.28L458.25 397.14L458.69 398.42L459.57 399.27L460.45 399.70L461.78 399.70L462.66 399.27L463.55 398.42M466.64 390.73L467.08 391.16L467.52 390.73L467.08 390.31L466.64 390.73M467.08 393.72L467.08 399.70M475.03 395.00L474.58 394.15L473.26 393.72L471.94 393.72L470.61 394.15L470.17 395.00L470.61 395.86L471.49 396.28L473.70 396.71L474.58 397.14L475.03 397.99L475.03 398.42L474.58 399.27L473.26 399.70L471.94 399.70L470.61 399.27L470.17 398.42M478.56 390.73L478.56 397.99L479.00 399.27L479.88 399.70L480.77 399.70M477.23 393.72L480.33 393.72M488.27 393.72L488.27 399.70M488.27 395.00L487.39 394.15L486.51 393.72L485.18 393.72L484.30 394.15L483.42 395.00L482.98 396.28L482.98 397.14L483.42 398.42L484.30 399.27L485.18 399.70L486.51 399.70L487.39 399.27L488.27 398.42M491.81 393.72L491.81 399.70M491.81 395.43L493.13 394.15L494.02 393.72L495.34 393.72L496.22 394.15L496.66 395.43L496.66 399.70M505.06 395.00L504.17 394.15L503.29 393.72L501.96 393.72L501.08 394.15L500.20 395.00L499.76 396.28L499.76 397.14L500.20 398.42L501.08 399.27L501.96 399.70L503.29 399.70L504.17 399.27L505.06 398.42M507.70 396.28L513.00 396.28L513.00 395.43L512.56 394.58L512.12 394.15L511.24 393.72L509.91 393.72L509.03 394.15L508.15 395.00L507.70 396.28L507.70 397.14L508.15 398.42L509.03 399.27L509.91 399.70L511.24 399.70L512.12 399.27L513.00 398.42M647.71 373.23L646.38 373.66L645.50 374.94L645.06 377.08L645.06 378.36L645.50 380.49L646.38 381.77L647.71 382.20L648.59 382.20L649.92 381.77L650.80 380.49L651.24 378.36L651.24 377.08L650.80 374.94L649.92 373.66L648.59 373.23L647.71 373.23M683.92 375.37L683.92 374.94L684.36 374.09L684.80 373.66L685.69 373.23L687.45 373.23L688.34 373.66L688.78 374.09L689.22 374.94L689.22 375.80L688.78 376.65L687.89 377.93L683.48 382.20L689.66 382.20M726.31 373.23L721.90 379.21L728.52 379.21M726.31 373.23L726.31 382.20M766.06 374.51L765.62 373.66L764.29 373.23L763.41 373.23L762.09 373.66L761.20 374.94L760.76 377.08L760.76 379.21L761.20 380.92L762.09 381.77L763.41 382.20L763.85 382.20L765.18 381.77L766.06 380.92L766.50 379.64L766.50 379.21L766.06 377.93L765.18 377.08L763.85 376.65L763.41 376.65L762.09 377.08L761.20 377.93L760.76 379.21M800.95 373.23L799.62 373.66L799.18 374.51L799.18 375.37L799.62 376.22L800.51 376.65L802.27 377.08L803.60 377.50L804.48 378.36L804.92 379.21L804.92 380.49L804.48 381.35L804.04 381.77L802.71 382.20L800.95 382.20L799.62 381.77L799.18 381.35L798.74 380.49L798.74 379.21L799.18 378.36L800.06 377.50L801.39 377.08L803.15 376.65L804.04 376.22L804.48 375.37L804.48 374.51L804.04 373.66L802.71 373.23L800.95 373.23M834.07 374.94L834.95 374.51L836.28 373.23L836.28 382.20M844.22 373.23L842.90 373.66L842.02 374.94L841.57 377.08L841.57 378.36L842.02 380.49L842.90 381.77L844.22 382.20L845.11 382.20L846.43 381.77L847.32 380.49L847.76 378.36L847.76 377.08L847.32 374.94L846.43 373.66L845.11 373.23L844.22 373.23M872.49 374.94L873.37 374.51L874.70 373.23L874.70 382.20M880.44 375.37L880.44 374.94L880.88 374.09L881.32 373.66L882.20 373.23L883.97 373.23L884.85 373.66L885.29 374.09L885.74 374.94L885.74 375.80L885.29 376.65L884.41 377.93L879.99 382.20L886.18 382.20M625.79 353.48L624.47 353.91L623.59 355.19L623.14 357.33L623.14 358.61L623.59 360.74L624.47 362.02L625.79 362.45L626.68 362.45L628.00 362.02L628.89 360.74L629.33 358.61L629.33 357.33L628.89 355.19L628.00 353.91L626.68 353.48L625.79 353.48M639.04 353.48L637.72 353.91L636.83 355.19L636.39 357.33L636.39 358.61L636.83 360.74L637.72 362.02L639.04 362.45L639.93 362.45L641.25 362.02L642.13 360.74L642.58 358.61L642.58 357.33L642.13 355.19L641.25 353.91L639.93 353.48L639.04 353.48M625.79 258.08L624.47 258.51L623.59 259.79L623.14 261.93L623.14 263.21L623.59 265.34L624.47 266.62L625.79 267.05L626.68 267.05L628.00 266.62L628.89 265.34L629.33 263.21L629.33 261.93L628.89 259.79L628.00 258.51L626.68 258.08L625.79 258.08M641.69 258.08L637.28 258.08L636.83 261.93L637.28 261.50L638.60 261.07L639.93 261.07L641.25 261.50L642.13 262.35L642.58 263.63L642.58 264.49L642.13 265.77L641.25 266.62L639.93 267.05L638.60 267.05L637.28 266.62L636.83 266.20L636.39 265.34M624.47 159.49L625.35 159.06L626.68 157.78L626.68 166.75M639.04 157.78L637.72 158.21L636.83 159.49L636.39 161.63L636.39 162.91L636.83 165.04L637.72 166.32L639.04 166.75L639.93 166.75L641.25 166.32L642.13 165.04L642.58 162.91L642.58 161.63L642.13 159.49L641.25 158.21L639.93 157.78L639.04 157.78M624.47 59.19L625.35 58.76L626.68 57.48L626.68 66.45M641.69 57.48L637.28 57.48L636.83 61.33L637.28 60.90L638.60 60.47L639.93 60.47L641.25 60.90L642.13 61.75L642.58 63.03L642.58 63.89L642.13 65.17L641.25 66.02L639.93 66.45L638.60 66.45L637.28 66.02L636.83 65.60L636.39 64.74M758.55 390.73L758.55 399.70M758.55 395.00L757.66 394.15L756.78 393.72L755.45 393.72L754.57 394.15L753.69 395.00L753.25 396.28L753.25 397.14L753.69 398.42L754.57 399.27L755.45 399.70L756.78 399.70L757.66 399.27L758.55 398.42M761.64 390.73L762.08 391.16L762.52 390.73L762.08 390.31L761.64 390.73M762.08 393.72L762.08 399.70M770.03 395.00L769.59 394.15L768.26 393.72L766.94 393.72L765.61 394.15L765.17 395.00L765.61 395.86L766.49 396.28L768.70 396.71L769.59 397.14L770.03 397.99L770.03 398.42L769.59 399.27L768.26 399.70L766.94 399.70L765.61 399.27L765.17 398.42M773.56 390.73L773.56 397.99L774.00 399.27L774.88 399.70L775.77 399.70M772.23 393.72L775.33 393.72M783.27 393.72L783.27 399.70M783.27 395.00L782.39 394.15L781.51 393.72L780.18 393.72L779.30 394.15L778.42 395.00L777.98 396.28L777.98 397.14L778.42 398.42L779.30 399.27L780.18 399.70L781.51 399.70L782.39 399.27L783.27 398.42M786.81 393.72L786.81 399.70M786.81 395.43L788.13 394.15L789.02 393.72L790.34 393.72L791.22 394.15L791.67 395.43L791.67 399.70M800.06 395.00L799.17 394.15L798.29 393.72L796.96 393.72L796.08 394.15L795.20 395.00L794.76 396.28L794.76 397.14L795.20 398.42L796.08 399.27L796.96 399.70L798.29 399.70L799.17 399.27L800.06 398.42M802.71 396.28L808.00 396.28L808.00 395.43L807.56 394.58L807.12 394.15L806.24 393.72L804.91 393.72L804.03 394.15L803.15 395.00L802.71 396.28L802.71 397.14L803.15 398.42L804.03 399.27L804.91 399.70L806.24 399.70L807.12 399.27L808.00 398.42M11.20 207.69L19.60 210.99M11.20 207.69L19.60 204.39M16.80 209.75L16.80 205.62" stroke-width="0.74"/>
<path d="M147.05 21.89L147.05 33.10M147.05 27.23L148.15 26.16L149.25 25.63L150.90 25.63L152.00 26.16L153.09 27.23L153.64 28.83L153.64 29.90L153.09 31.50L152.00 32.57L150.90 33.10L149.25 33.10L148.15 32.57L147.05 31.50M157.49 26.70L167.39 26.70M157.49 29.90L167.39 29.90M172.89 24.03L173.99 23.49L175.64 21.89L175.64 33.10M191.03 21.89L189.38 22.43L188.28 24.03L187.73 26.70L187.73 28.30L188.28 30.97L189.38 32.57L191.03 33.10L192.13 33.10L193.78 32.57L194.88 30.97L195.43 28.30L195.43 26.70L194.88 24.03L193.78 22.43L192.13 21.89L191.03 21.89M214.12 21.89L214.12 33.10M214.12 27.23L213.02 26.16L211.92 25.63L210.27 25.63L209.17 26.16L208.07 27.23L207.52 28.83L207.52 29.90L208.07 31.50L209.17 32.57L210.27 33.10L211.92 33.10L213.02 32.57L214.12 31.50M217.97 28.83L224.57 28.83L224.57 27.76L224.02 26.70L223.47 26.16L222.37 25.63L220.72 25.63L219.62 26.16L218.52 27.23L217.97 28.83L217.97 29.90L218.52 31.50L219.62 32.57L220.72 33.10L222.37 33.10L223.47 32.57L224.57 31.50M234.46 25.63L234.46 34.17L233.91 35.77L233.36 36.30L232.26 36.84L230.62 36.84L229.52 36.30M234.46 27.23L233.36 26.16L232.26 25.63L230.62 25.63L229.52 26.16L228.42 27.23L227.87 28.83L227.87 29.90L228.42 31.50L229.52 32.57L230.62 33.10L232.26 33.10L233.36 32.57L234.46 31.50M441.53 21.89L441.53 33.10M441.53 27.23L442.63 26.16L443.73 25.63L445.38 25.63L446.48 26.16L447.58 27.23L448.13 28.83L448.13 29.90L447.58 31.50L446.48 32.57L445.38 33.10L443.73 33.10L442.63 32.57L441.53 31.50M451.98 26.70L461.87 26.70M451.98 29.90L461.87 29.90M469.02 21.89L467.37 22.43L466.27 24.03L465.72 26.70L465.72 28.30L466.27 30.97L467.37 32.57L469.02 33.10L470.12 33.10L471.77 32.57L472.87 30.97L473.42 28.30L473.42 26.70L472.87 24.03L471.77 22.43L470.12 21.89L469.02 21.89M485.52 21.89L483.87 22.43L482.77 24.03L482.22 26.70L482.22 28.30L482.77 30.97L483.87 32.57L485.52 33.10L486.62 33.10L488.26 32.57L489.36 30.97L489.91 28.30L489.91 26.70L489.36 24.03L488.26 22.43L486.62 21.89L485.52 21.89M508.61 21.89L508.61 33.10M508.61 27.23L507.51 26.16L506.41 25.63L504.76 25.63L503.66 26.16L502.56 27.23L502.01 28.83L502.01 29.90L502.56 31.50L503.66 32.57L504.76 33.10L506.41 33.10L507.51 32.57L508.61 31.50M512.46 28.83L519.05 28.83L519.05 27.76L518.50 26.70L517.95 26.16L516.85 25.63L515.20 25.63L514.10 26.16L513.01 27.23L512.46 28.83L512.46 29.90L513.01 31.50L514.10 32.57L515.20 33.10L516.85 33.10L517.95 32.57L519.05 31.50M528.95 25.63L528.95 34.17L528.40 35.77L527.85 36.30L526.75 36.84L525.10 36.84L524.00 36.30M528.95 27.23L527.85 26.16L526.75 25.63L525.10 25.63L524.00 26.16L522.90 27.23L522.35 28.83L522.35 29.90L522.90 31.50L524.00 32.57L525.10 33.10L526.75 33.10L527.85 32.57L528.95 31.50M729.36 21.89L729.36 33.10M729.36 27.23L730.46 26.16L731.56 25.63L733.20 25.63L734.30 26.16L735.40 27.23L735.95 28.83L735.95 29.90L735.40 31.50L734.30 32.57L733.20 33.10L731.56 33.10L730.46 32.57L729.36 31.50M739.80 26.70L749.70 26.70M739.80 29.90L749.70 29.90M754.10 28.30L763.99 28.30M769.49 24.03L770.59 23.49L772.24 21.89L772.24 33.10M787.63 21.89L785.98 22.43L784.89 24.03L784.34 26.70L784.34 28.30L784.89 30.97L785.98 32.57L787.63 33.10L788.73 33.10L790.38 32.57L791.48 30.97L792.03 28.30L792.03 26.70L791.48 24.03L790.38 22.43L788.73 21.89L787.63 21.89M810.73 21.89L810.73 33.10M810.73 27.23L809.63 26.16L808.53 25.63L806.88 25.63L805.78 26.16L804.68 27.23L804.13 28.83L804.13 29.90L804.68 31.50L805.78 32.57L806.88 33.10L808.53 33.10L809.63 32.57L810.73 31.50M814.57 28.83L821.17 28.83L821.17 27.76L820.62 26.70L820.07 26.16L818.97 25.63L817.32 25.63L816.22 26.16L815.12 27.23L814.57 28.83L814.57 29.90L815.12 31.50L816.22 32.57L817.32 33.10L818.97 33.10L820.07 32.57L821.17 31.50M831.07 25.63L831.07 34.17L830.52 35.77L829.97 36.30L828.87 36.84L827.22 36.84L826.12 36.30M831.07 27.23L829.97 26.16L828.87 25.63L827.22 25.63L826.12 26.16L825.02 27.23L824.47 28.83L824.47 29.90L825.02 31.50L826.12 32.57L827.22 33.10L828.87 33.10L829.97 32.57L831.07 31.50" stroke-width="0.80"/>
<path d="M117.21 59.45L117.21 66.40M120.04 62.43L126.41 62.43M120.04 64.41L126.41 64.41M129.24 63.42L135.61 63.42M139.14 60.77L139.85 60.44L140.91 59.45L140.91 66.40M147.28 59.45L146.22 59.78L145.51 60.77L145.16 62.43L145.16 63.42L145.51 65.08L146.22 66.07L147.28 66.40L147.99 66.40L149.05 66.07L149.76 65.08L150.11 63.42L150.11 62.43L149.76 60.77L149.05 59.78L147.99 59.45L147.28 59.45M157.89 59.45L156.83 59.78L156.12 60.77L155.77 62.43L155.77 63.42L156.12 65.08L156.83 66.07L157.89 66.40L158.60 66.40L159.66 66.07L160.37 65.08L160.72 63.42L160.72 62.43L160.37 60.77L159.66 59.78L158.60 59.45L157.89 59.45M172.75 59.45L172.75 66.40M172.75 62.76L172.04 62.10L171.33 61.77L170.27 61.77L169.56 62.10L168.85 62.76L168.50 63.75L168.50 64.41L168.85 65.41L169.56 66.07L170.27 66.40L171.33 66.40L172.04 66.07L172.75 65.41M175.22 63.75L179.47 63.75L179.47 63.09L179.11 62.43L178.76 62.10L178.05 61.77L176.99 61.77L176.28 62.10L175.58 62.76L175.22 63.75L175.22 64.41L175.58 65.41L176.28 66.07L176.99 66.40L178.05 66.40L178.76 66.07L179.47 65.41M185.83 61.77L185.83 67.06L185.48 68.06L185.13 68.39L184.42 68.72L183.36 68.72L182.65 68.39M185.83 62.76L185.13 62.10L184.42 61.77L183.36 61.77L182.65 62.10L181.94 62.76L181.59 63.75L181.59 64.41L181.94 65.41L182.65 66.07L183.36 66.40L184.42 66.40L185.13 66.07L185.83 65.41M117.21 72.27L117.21 79.22M120.04 75.25L126.41 75.25M120.04 77.23L126.41 77.23M129.24 76.24L135.61 76.24M142.33 72.27L138.79 72.27L138.44 75.25L138.79 74.92L139.85 74.59L140.91 74.59L141.97 74.92L142.68 75.58L143.03 76.57L143.03 77.23L142.68 78.23L141.97 78.89L140.91 79.22L139.85 79.22L138.79 78.89L138.44 78.56L138.08 77.90M150.82 72.27L149.76 72.60L149.05 73.59L148.69 75.25L148.69 76.24L149.05 77.90L149.76 78.89L150.82 79.22L151.52 79.22L152.58 78.89L153.29 77.90L153.65 76.24L153.65 75.25L153.29 73.59L152.58 72.60L151.52 72.27L150.82 72.27M165.67 72.27L165.67 79.22M165.67 75.58L164.96 74.92L164.26 74.59L163.20 74.59L162.49 74.92L161.78 75.58L161.43 76.57L161.43 77.23L161.78 78.23L162.49 78.89L163.20 79.22L164.26 79.22L164.96 78.89L165.67 78.23M168.15 76.57L172.39 76.57L172.39 75.91L172.04 75.25L171.68 74.92L170.98 74.59L169.92 74.59L169.21 74.92L168.50 75.58L168.15 76.57L168.15 77.23L168.50 78.23L169.21 78.89L169.92 79.22L170.98 79.22L171.68 78.89L172.39 78.23M178.76 74.59L178.76 79.88L178.40 80.88L178.05 81.21L177.34 81.54L176.28 81.54L175.58 81.21M178.76 75.58L178.05 74.92L177.34 74.59L176.28 74.59L175.58 74.92L174.87 75.58L174.51 76.57L174.51 77.23L174.87 78.23L175.58 78.89L176.28 79.22L177.34 79.22L178.05 78.89L178.76 78.23M117.21 85.09L117.21 92.04M120.04 88.07L126.41 88.07M120.04 90.05L126.41 90.05M129.24 89.06L135.61 89.06M138.79 85.09L142.68 85.09L140.56 87.74L141.62 87.74L142.33 88.07L142.68 88.40L143.03 89.39L143.03 90.05L142.68 91.05L141.97 91.71L140.91 92.04L139.85 92.04L138.79 91.71L138.44 91.38L138.08 90.72M150.82 85.09L149.76 85.42L149.05 86.41L148.69 88.07L148.69 89.06L149.05 90.72L149.76 91.71L150.82 92.04L151.52 92.04L152.58 91.71L153.29 90.72L153.65 89.06L153.65 88.07L153.29 86.41L152.58 85.42L151.52 85.09L150.82 85.09M165.67 85.09L165.67 92.04M165.67 88.40L164.96 87.74L164.26 87.41L163.20 87.41L162.49 87.74L161.78 88.40L161.43 89.39L161.43 90.05L161.78 91.05L162.49 91.71L163.20 92.04L164.26 92.04L164.96 91.71L165.67 91.05M168.15 89.39L172.39 89.39L172.39 88.73L172.04 88.07L171.68 87.74L170.98 87.41L169.92 87.41L169.21 87.74L168.50 88.40L168.15 89.39L168.15 90.05L168.50 91.05L169.21 91.71L169.92 92.04L170.98 92.04L171.68 91.71L172.39 91.05M178.76 87.41L178.76 92.70L178.40 93.70L178.05 94.03L177.34 94.36L176.28 94.36L175.58 94.03M178.76 88.40L178.05 87.74L177.34 87.41L176.28 87.41L175.58 87.74L174.87 88.40L174.51 89.39L174.51 90.05L174.87 91.05L175.58 91.71L176.28 92.04L177.34 92.04L178.05 91.71L178.76 91.05M117.21 97.91L117.21 104.86M120.04 100.89L126.41 100.89M120.04 102.87L126.41 102.87M131.01 97.91L129.95 98.24L129.24 99.23L128.89 100.89L128.89 101.88L129.24 103.54L129.95 104.53L131.01 104.86L131.72 104.86L132.78 104.53L133.49 103.54L133.84 101.88L133.84 100.89L133.49 99.23L132.78 98.24L131.72 97.91L131.01 97.91M141.62 97.91L140.56 98.24L139.85 99.23L139.50 100.89L139.50 101.88L139.85 103.54L140.56 104.53L141.62 104.86L142.33 104.86L143.39 104.53L144.10 103.54L144.45 101.88L144.45 100.89L144.10 99.23L143.39 98.24L142.33 97.91L141.62 97.91M156.48 97.91L156.48 104.86M156.48 101.22L155.77 100.56L155.06 100.23L154.00 100.23L153.29 100.56L152.58 101.22L152.23 102.21L152.23 102.87L152.58 103.87L153.29 104.53L154.00 104.86L155.06 104.86L155.77 104.53L156.48 103.87M158.95 102.21L163.20 102.21L163.20 101.55L162.84 100.89L162.49 100.56L161.78 100.23L160.72 100.23L160.01 100.56L159.31 101.22L158.95 102.21L158.95 102.87L159.31 103.87L160.01 104.53L160.72 104.86L161.78 104.86L162.49 104.53L163.20 103.87M169.56 100.23L169.56 105.52L169.21 106.52L168.85 106.85L168.15 107.18L167.09 107.18L166.38 106.85M169.56 101.22L168.85 100.56L168.15 100.23L167.09 100.23L166.38 100.56L165.67 101.22L165.32 102.21L165.32 102.87L165.67 103.87L166.38 104.53L167.09 104.86L168.15 104.86L168.85 104.53L169.56 103.87M117.21 110.73L117.21 117.68M120.04 113.71L126.41 113.71M120.04 115.69L126.41 115.69M129.24 112.38L129.24 112.05L129.59 111.39L129.95 111.06L130.66 110.73L132.07 110.73L132.78 111.06L133.13 111.39L133.49 112.05L133.49 112.72L133.13 113.38L132.42 114.37L128.89 117.68L133.84 117.68M141.62 110.73L140.56 111.06L139.85 112.05L139.50 113.71L139.50 114.70L139.85 116.36L140.56 117.35L141.62 117.68L142.33 117.68L143.39 117.35L144.10 116.36L144.45 114.70L144.45 113.71L144.10 112.05L143.39 111.06L142.33 110.73L141.62 110.73M156.48 110.73L156.48 117.68M156.48 114.04L155.77 113.38L155.06 113.05L154.00 113.05L153.29 113.38L152.58 114.04L152.23 115.03L152.23 115.69L152.58 116.69L153.29 117.35L154.00 117.68L155.06 117.68L155.77 117.35L156.48 116.69M158.95 115.03L163.20 115.03L163.20 114.37L162.84 113.71L162.49 113.38L161.78 113.05L160.72 113.05L160.01 113.38L159.31 114.04L158.95 115.03L158.95 115.69L159.31 116.69L160.01 117.35L160.72 117.68L161.78 117.68L162.49 117.35L163.20 116.69M169.56 113.05L169.56 118.34L169.21 119.34L168.85 119.67L168.15 120.00L167.09 120.00L166.38 119.67M169.56 114.04L168.85 113.38L168.15 113.05L167.09 113.05L166.38 113.38L165.67 114.04L165.32 115.03L165.32 115.69L165.67 116.69L166.38 117.35L167.09 117.68L168.15 117.68L168.85 117.35L169.56 116.69M117.21 123.55L117.21 130.50M120.04 126.53L126.41 126.53M120.04 128.51L126.41 128.51M133.13 123.55L129.59 123.55L129.24 126.53L129.59 126.20L130.66 125.87L131.72 125.87L132.78 126.20L133.49 126.86L133.84 127.85L133.84 128.51L133.49 129.51L132.78 130.17L131.72 130.50L130.66 130.50L129.59 130.17L129.24 129.84L128.89 129.18M141.62 123.55L140.56 123.88L139.85 124.87L139.50 126.53L139.50 127.52L139.85 129.18L140.56 130.17L141.62 130.50L142.33 130.50L143.39 130.17L144.10 129.18L144.45 127.52L144.45 126.53L144.10 124.87L143.39 123.88L142.33 123.55L141.62 123.55M156.48 123.55L156.48 130.50M156.48 126.86L155.77 126.20L155.06 125.87L154.00 125.87L153.29 126.20L152.58 126.86L152.23 127.85L152.23 128.51L152.58 129.51L153.29 130.17L154.00 130.50L155.06 130.50L155.77 130.17L156.48 129.51M158.95 127.85L163.20 127.85L163.20 127.19L162.84 126.53L162.49 126.20L161.78 125.87L160.72 125.87L160.01 126.20L159.31 126.86L158.95 127.85L158.95 128.51L159.31 129.51L160.01 130.17L160.72 130.50L161.78 130.50L162.49 130.17L163.20 129.51M169.56 125.87L169.56 131.16L169.21 132.16L168.85 132.49L168.15 132.82L167.09 132.82L166.38 132.49M169.56 126.86L168.85 126.20L168.15 125.87L167.09 125.87L166.38 126.20L165.67 126.86L165.32 127.85L165.32 128.51L165.67 129.51L166.38 130.17L167.09 130.50L168.15 130.50L168.85 130.17L169.56 129.51M117.21 136.37L117.21 143.32M120.04 139.35L126.41 139.35M120.04 141.33L126.41 141.33M130.66 136.37L129.59 136.70L129.24 137.36L129.24 138.02L129.59 138.69L130.30 139.02L131.72 139.35L132.78 139.68L133.49 140.34L133.84 141.00L133.84 142.00L133.49 142.66L133.13 142.99L132.07 143.32L130.66 143.32L129.59 142.99L129.24 142.66L128.89 142.00L128.89 141.00L129.24 140.34L129.95 139.68L131.01 139.35L132.42 139.02L133.13 138.69L133.49 138.02L133.49 137.36L133.13 136.70L132.07 136.37L130.66 136.37M141.62 136.37L140.56 136.70L139.85 137.69L139.50 139.35L139.50 140.34L139.85 142.00L140.56 142.99L141.62 143.32L142.33 143.32L143.39 142.99L144.10 142.00L144.45 140.34L144.45 139.35L144.10 137.69L143.39 136.70L142.33 136.37L141.62 136.37M156.48 136.37L156.48 143.32M156.48 139.68L155.77 139.02L155.06 138.69L154.00 138.69L153.29 139.02L152.58 139.68L152.23 140.67L152.23 141.33L152.58 142.33L153.29 142.99L154.00 143.32L155.06 143.32L155.77 142.99L156.48 142.33M158.95 140.67L163.20 140.67L163.20 140.01L162.84 139.35L162.49 139.02L161.78 138.69L160.72 138.69L160.01 139.02L159.31 139.68L158.95 140.67L158.95 141.33L159.31 142.33L160.01 142.99L160.72 143.32L161.78 143.32L162.49 142.99L163.20 142.33M169.56 138.69L169.56 143.98L169.21 144.97L168.85 145.31L168.15 145.64L167.09 145.64L166.38 145.31M169.56 139.68L168.85 139.02L168.15 138.69L167.09 138.69L166.38 139.02L165.67 139.68L165.32 140.67L165.32 141.33L165.67 142.33L166.38 142.99L167.09 143.32L168.15 143.32L168.85 142.99L169.56 142.33" stroke-width="0.72"/>
<path d="M18.49 202.42L23.30 202.42M18.49 198.64L21.70 202.42M20.55 201.07L23.30 198.64M20.78 194.05L20.32 194.32L20.09 195.13L20.09 195.94L20.32 196.75L20.78 197.02L21.24 196.75L21.47 196.21L21.70 194.86L21.93 194.32L22.38 194.05L22.61 194.05L23.07 194.32L23.30 195.13L23.30 195.94L23.07 196.75L22.61 197.02" stroke-width="0.80"/>
</g>
<g fill="#222"><circle cx="43.19" cy="362.02" r="0.71"/><circle cx="43.19" cy="266.62" r="0.71"/><circle cx="43.19" cy="166.32" r="0.71"/><circle cx="43.19" cy="66.02" r="0.71"/><circle cx="183.33" cy="32.57" r="0.88"/><circle cx="337.71" cy="362.02" r="0.71"/><circle cx="337.71" cy="309.57" r="0.71"/><circle cx="337.71" cy="252.22" r="0.71"/><circle cx="337.71" cy="194.87" r="0.71"/><circle cx="337.71" cy="137.52" r="0.71"/><circle cx="337.71" cy="80.17" r="0.71"/><circle cx="477.82" cy="32.57" r="0.88"/><circle cx="632.86" cy="362.02" r="0.71"/><circle cx="632.86" cy="266.62" r="0.71"/><circle cx="632.86" cy="166.32" r="0.71"/><circle cx="632.86" cy="66.02" r="0.71"/><circle cx="779.94" cy="32.57" r="0.88"/><circle cx="152.94" cy="66.07" r="0.66"/><circle cx="145.86" cy="78.89" r="0.66"/><circle cx="145.86" cy="91.71" r="0.66"/><circle cx="136.67" cy="104.53" r="0.66"/><circle cx="136.67" cy="117.35" r="0.66"/><circle cx="136.67" cy="130.17" r="0.66"/><circle cx="136.67" cy="142.99" r="0.66"/></g>
</svg>
</body></html>
